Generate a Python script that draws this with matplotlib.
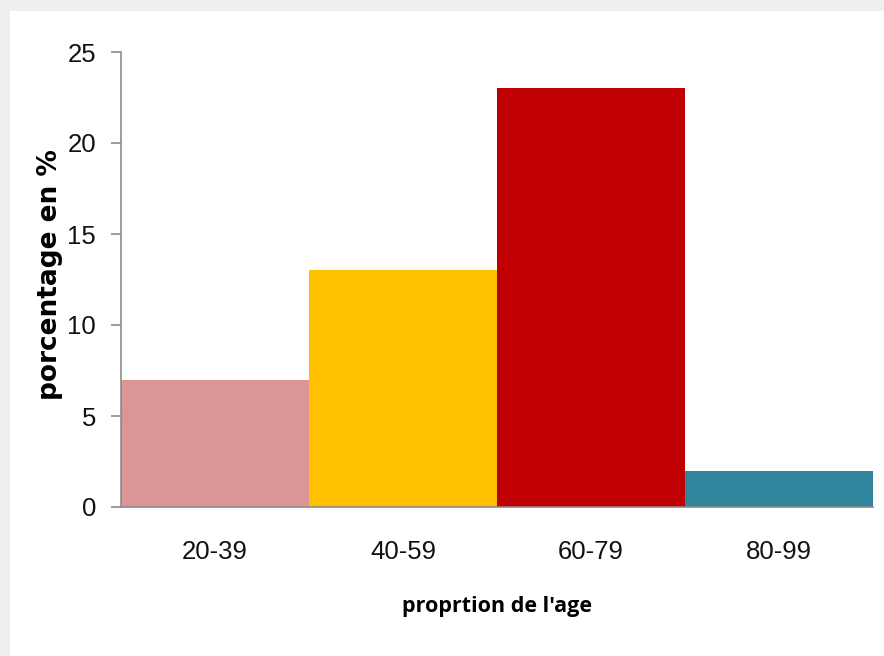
#!/usr/bin/env python
# Age distribution bar chart (percentage per age group).

# Third party modules.
import matplotlib
matplotlib.use("Agg")
import matplotlib.pyplot as plt
from matplotlib.patches import Rectangle

# Data.
ageGroups = ["20-39", "40-59", "60-79", "80-99"]
percentages = [7, 13, 23, 2]
barColors = ["#D99694", "#FFC000", "#C00000", "#31859C"]
yTicks = [0, 5, 10, 15, 20, 25]


def runPlot():
    fig = plt.figure(figsize=(8.84, 6.56), dpi=100)
    fig.patch.set_facecolor("#eeeeee")
    # white panel inside the grey frame
    panel = Rectangle((10/884, 0), 1.0, 1 - 11/656, transform=fig.transFigure,
                      facecolor="white", edgecolor="none", zorder=-10)
    fig.add_artist(panel)

    ax = fig.add_axes([121/884, 1 - 507/656, 752/884, 455/656])
    ax.set_facecolor("none")

    positions = range(len(ageGroups))
    ax.bar(positions, percentages, width=1.0, color=barColors, edgecolor="none")

    ax.set_xlim(-0.5, len(ageGroups) - 0.5)
    ax.set_ylim(0, 25)
    ax.set_yticks(yTicks)
    ax.set_xticks(list(positions))
    ax.set_xticklabels(ageGroups)

    for label in ax.get_yticklabels() + ax.get_xticklabels():
        label.set_fontfamily("Liberation Sans")
        label.set_fontsize(18.5)
        label.set_color("#111111")

    for side in ["top", "right"]:
        ax.spines[side].set_visible(False)
    for side in ["left", "bottom"]:
        ax.spines[side].set_color("#8c8c8c")
        ax.spines[side].set_linewidth(1.2)

    ax.tick_params(axis="y", length=7, width=1.2, color="#8c8c8c", pad=11)
    ax.tick_params(axis="x", length=0, pad=24)

    ax.set_xlabel("proprtion de l'age", fontsize=15.5, fontweight="bold",
                  family=["Open Sans", "DejaVu Sans"], labelpad=23)
    ax.set_ylabel("porcentage en %", fontsize=19, fontweight="bold",
                  family="DejaVu Sans")
    ax.yaxis.set_label_coords(-58/752, 0.51)

    fig.savefig("out.png", dpi=100)


if __name__ == '__main__':
    runPlot()
